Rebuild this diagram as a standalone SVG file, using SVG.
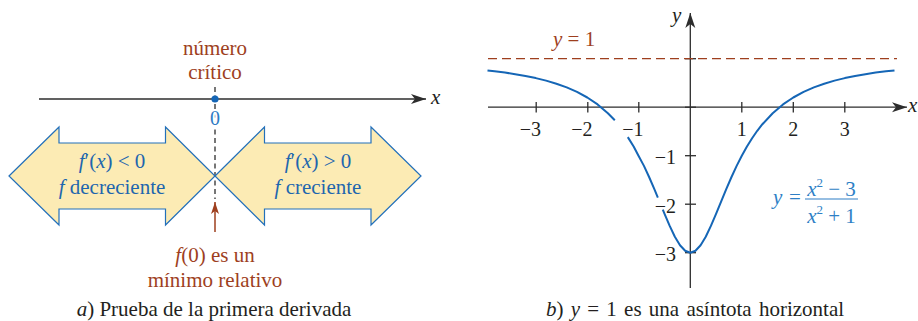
<svg xmlns="http://www.w3.org/2000/svg" width="918" height="321" viewBox="0 0 918 321" font-family="'Liberation Serif', 'Times New Roman', serif">
<style>
.it{font-style:italic;}
.brown{fill:#9E3F1E;}
.blue{fill:#1E66AE;}
.cap{fill:#231F20;font-size:21px;}
.axis{stroke:#2d2d2d;stroke-width:1.3;fill:none;}
.tick{stroke:#2d2d2d;stroke-width:1.3;}
.lbl{font-size:20px;fill:#231F20;}
.shape{fill:#FCEBB4;stroke:#2370BA;stroke-width:1.2;}
.curve{fill:none;stroke:#1566B6;stroke-width:2;stroke-linejoin:round;stroke-linecap:butt;}
</style>
<defs>
<marker id="ah" viewBox="-16 -6 17 12" refX="0" refY="0" markerWidth="17" markerHeight="12" markerUnits="userSpaceOnUse" orient="auto">
<path d="M0,0 L-15,-5 L-11,0 L-15,5 Z" fill="#2d2d2d"/>
</marker>
<marker id="ahb" viewBox="-14 -5 15 10" refX="0" refY="0" markerWidth="15" markerHeight="10" markerUnits="userSpaceOnUse" orient="auto">
<path d="M0,0 L-12,-4 L-9,0 L-12,4 Z" fill="#9E3F1E"/>
</marker>
</defs>
<rect width="918" height="321" fill="#ffffff"/>

<!-- Panel a -->
<g id="panel-a">
<g id="connectors-a">
<line x1="215" y1="87" x2="215" y2="199" stroke="#4a4a4a" stroke-width="1.5" stroke-dasharray="5,3.5"/>
<line class="axis" x1="39" y1="99" x2="426" y2="99" marker-end="url(#ah)"/>
<line x1="215" y1="232" x2="215" y2="202" stroke="#9E3F1E" stroke-width="1.5" marker-end="url(#ahb)"/>
</g>
<text class="it" x="431" y="104" font-size="21" fill="#231F20">x</text>
<g id="critical-point">
<circle cx="215" cy="99" r="3.6" fill="#1566B6"/>
<text x="215" y="125" font-size="20" text-anchor="middle" fill="#2E7BC4" stroke="#ffffff" stroke-width="4" paint-order="stroke">0</text>
<text class="brown" x="215" y="55" font-size="21" text-anchor="middle">número</text>
<text class="brown" x="215" y="79" font-size="21" text-anchor="middle">crítico</text>
</g>
<g id="decreasing">
<polygon class="shape" points="9,176 59,127 59,143 165.5,143 165.5,127 215,176 165.5,225 165.5,209 59,209 59,225"/>
<text class="blue" x="112" y="168" font-size="21" text-anchor="middle"><tspan class="it">f</tspan>′(<tspan class="it">x</tspan>) &lt; 0</text>
<text class="blue" x="112" y="194" font-size="21" text-anchor="middle"><tspan class="it">f</tspan> decreciente</text>
</g>
<g id="increasing">
<polygon class="shape" points="215,176 264.5,127 264.5,143 371,143 371,127 421,176 371,225 371,209 264.5,209 264.5,225"/>
<text class="blue" x="318" y="168" font-size="21" text-anchor="middle"><tspan class="it">f</tspan>′(<tspan class="it">x</tspan>) &gt; 0</text>
<text class="blue" x="318" y="194" font-size="21" text-anchor="middle"><tspan class="it">f</tspan> creciente</text>
</g>
<g id="minimum">
<text class="brown" x="215" y="262" font-size="21" text-anchor="middle"><tspan class="it">f</tspan>(0) es un</text>
<text class="brown" x="215" y="287" font-size="21" text-anchor="middle">mínimo relativo</text>
</g>
<text class="cap" x="214" y="316" text-anchor="middle"><tspan class="it">a</tspan>) Prueba de la primera derivada</text>
</g>

<!-- Panel b -->
<g id="panel-b">
<g id="axes-b">
<line class="axis" x1="488" y1="107.2" x2="907" y2="107.2" marker-end="url(#ah)"/>
<line class="axis" x1="690.3" y1="288" x2="690.3" y2="13" marker-end="url(#ah)"/>
<line class="tick" x1="536.2" y1="102" x2="536.2" y2="112.5"/>
<line class="tick" x1="587.8" y1="102" x2="587.8" y2="112.5"/>
<line class="tick" x1="638.8" y1="102" x2="638.8" y2="112.5"/>
<line class="tick" x1="741.8" y1="102" x2="741.8" y2="112.5"/>
<line class="tick" x1="793.3" y1="102" x2="793.3" y2="112.5"/>
<line class="tick" x1="844.8" y1="102" x2="844.8" y2="112.5"/>
<line class="tick" x1="685" y1="58.7" x2="696" y2="58.7"/>
<line class="tick" x1="685" y1="107.2" x2="696" y2="107.2"/>
<line class="tick" x1="685" y1="155.7" x2="696" y2="155.7"/>
<line class="tick" x1="685" y1="204.2" x2="696" y2="204.2"/>
<line class="tick" x1="685" y1="252.7" x2="696" y2="252.7"/>
<text class="it" x="908" y="112" font-size="21" fill="#231F20">x</text>
<text class="it" x="672" y="22" font-size="21" fill="#231F20">y</text>
<text class="lbl" x="541" y="136" text-anchor="end">−3</text>
<text class="lbl" x="592.5" y="136" text-anchor="end">−2</text>
<text class="lbl" x="643.5" y="136" text-anchor="end">−1</text>
<text class="lbl" x="741.8" y="136" text-anchor="middle">1</text>
<text class="lbl" x="793.3" y="136" text-anchor="middle">2</text>
<text class="lbl" x="844.8" y="136" text-anchor="middle">3</text>
<text class="lbl" x="676" y="164" text-anchor="end">−1</text>
<text class="lbl" x="676" y="212.5" text-anchor="end">−2</text>
<text class="lbl" x="676" y="261" text-anchor="end">−3</text>
</g>
<g id="asymptote">
<line x1="488" y1="58.7" x2="897" y2="58.7" stroke="#9E3F1E" stroke-width="1.3" stroke-dasharray="9,5"/>
<text class="brown" x="553" y="46" font-size="21"><tspan class="it">y</tspan> = 1</text>
</g>
<g id="curve">
<polyline class="curve" points="487.5,70.4 494.6,71.3 504.9,72.6 515.2,74.15 525.5,75.96 535.8,78.1 546.1,80.65 556.4,83.7 566.7,87.4 577.0,91.9 587.3,97.5 597.6,104.45 607.9,113.2 614.8,120.3"/>
<polyline class="curve" points="627.8,137.1 633.65,146.5 638.5,155.7 643.95,165.9 649.1,177.0 654.25,188.9 657.85,197.6"/>
<polyline class="curve" points="662.8,209.65 664.55,213.9 669.7,225.9 674.85,236.7 680.0,245.2 685.15,250.8 690.3,252.7 695.45,250.8 700.6,245.2 705.75,236.7 710.9,225.9 716.05,213.9 721.2,201.35 726.35,188.9 731.5,177.0 736.65,165.9 741.8,155.7 746.95,146.5 752.1,138.2 757.25,130.8 762.4,124.24 772.7,113.2 783.0,104.45 793.3,97.5 803.6,91.9 813.9,87.4 824.2,83.7 834.5,80.65 844.8,78.1 855.1,75.96 865.4,74.15 875.7,72.6 886.0,71.3 894.5,70.4"/>
</g>
<g id="formula" fill="#2E7FC6">
<text class="it" x="773" y="204" font-size="21">y</text>
<text x="789" y="204" font-size="21">=</text>
<line x1="805" y1="199" x2="858" y2="199" stroke="#2E7FC6" stroke-width="1.2"/>
<text x="831.5" y="196" font-size="21" text-anchor="middle"><tspan class="it">x</tspan><tspan font-size="13" dy="-9">2</tspan><tspan dy="9"> − 3</tspan></text>
<text x="831.5" y="223" font-size="21" text-anchor="middle"><tspan class="it">x</tspan><tspan font-size="13" dy="-9">2</tspan><tspan dy="9"> + 1</tspan></text>
</g>
<text class="cap" x="695" y="316" text-anchor="middle" word-spacing="2"><tspan class="it">b</tspan>) <tspan class="it">y</tspan> = 1 es una asíntota horizontal</text>
</g>
</svg>
